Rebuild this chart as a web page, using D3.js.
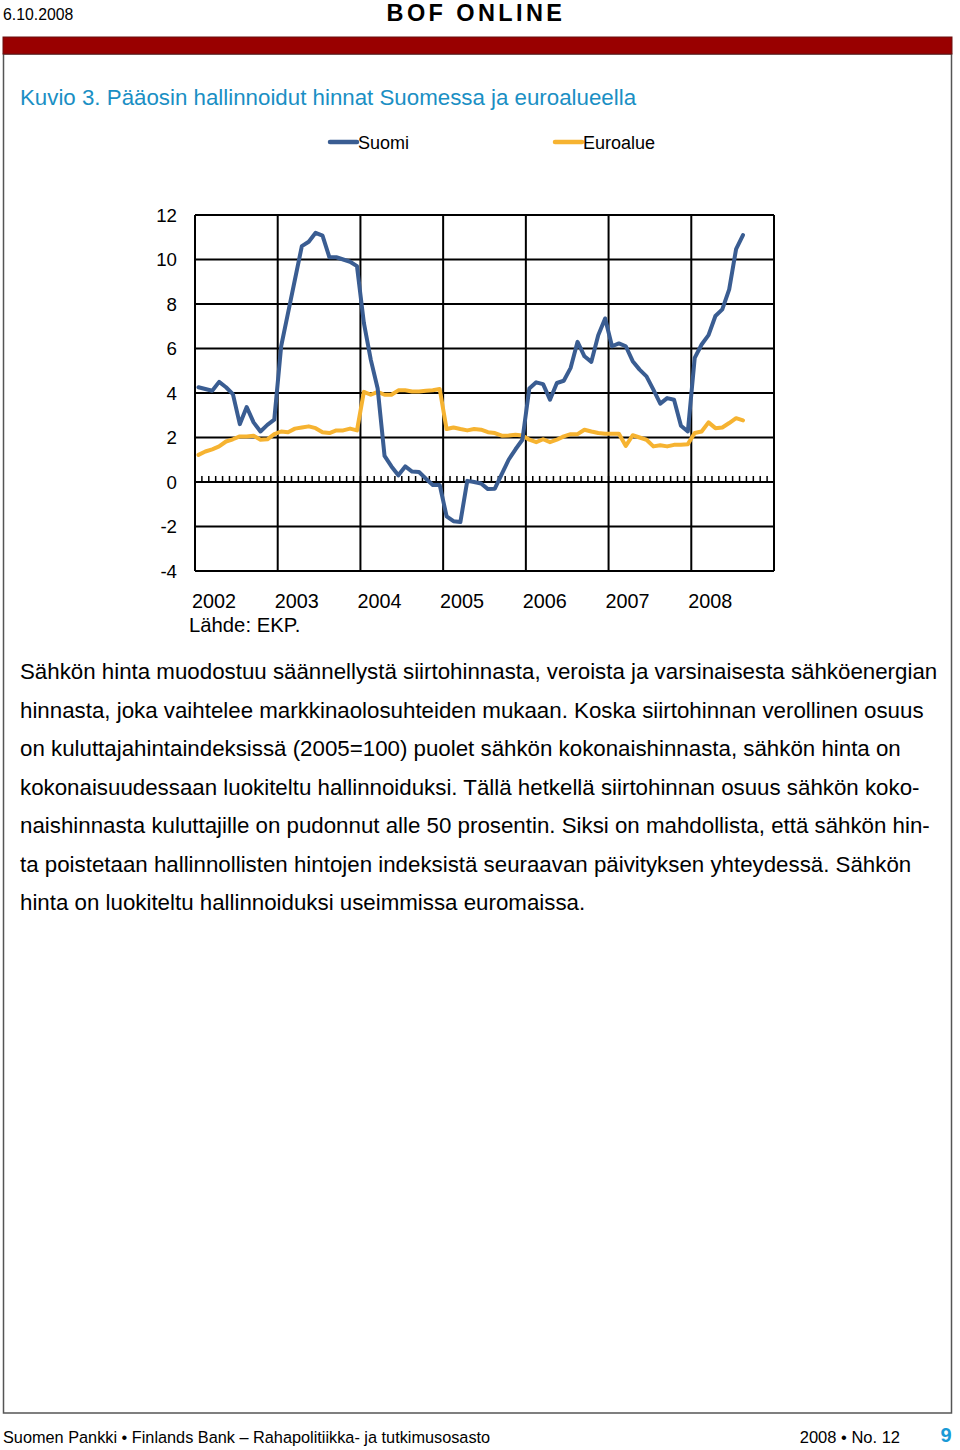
<!DOCTYPE html>
<html>
<head>
<meta charset="utf-8">
<script src="https://cdn.jsdelivr.net/npm/d3@7"></script>
<style>
  html, body { margin: 0; padding: 0; background: #fff; }
  svg { display: block; }
</style>
</head>
<body>
<script>
// ---- Data ----
const years = [2002, 2003, 2004, 2005, 2006, 2007, 2008];
const yTicks = [-4, -2, 0, 2, 4, 6, 8, 10, 12];
// Monthly values, Jan 2002 - Aug 2008
const suomi = [
  4.26, 4.18, 4.10, 4.50, 4.26, 3.95, 2.60, 3.37, 2.68, 2.27, 2.57, 2.80,   // 2002
  6.10, 7.60, 9.10, 10.60, 10.80, 11.20, 11.07, 10.10, 10.10, 10.00, 9.90, 9.70, // 2003
  7.15, 5.50, 4.20, 1.17, 0.70, 0.30, 0.70, 0.47, 0.45, 0.15, -0.13, -0.13, // 2004
  -1.54, -1.76, -1.80, 0.05, 0.00, -0.07, -0.32, -0.30, 0.35, 1.00, 1.47, 1.90, // 2005
  4.20, 4.48, 4.40, 3.70, 4.45, 4.55, 5.13, 6.30, 5.65, 5.40, 6.60, 7.35, // 2006
  6.10, 6.23, 6.10, 5.43, 5.05, 4.75, 4.15, 3.52, 3.77, 3.70, 2.53, 2.27, // 2007
  5.58, 6.18, 6.60, 7.46, 7.76, 8.66, 10.47, 11.10                          // 2008
];
const euroalue = [
  1.22, 1.37, 1.47, 1.60, 1.82, 1.92, 2.05, 2.05, 2.08, 1.90, 1.92, 2.15,   // 2002
  2.27, 2.24, 2.40, 2.45, 2.50, 2.42, 2.24, 2.20, 2.32, 2.32, 2.40, 2.32,   // 2003
  4.05, 3.92, 4.05, 3.92, 3.92, 4.12, 4.12, 4.07, 4.07, 4.10, 4.12, 4.18,   // 2004
  2.38, 2.45, 2.38, 2.32, 2.38, 2.35, 2.24, 2.20, 2.08, 2.09, 2.12, 2.09,   // 2005
  1.90, 1.79, 1.92, 1.79, 1.90, 2.05, 2.15, 2.15, 2.35, 2.27, 2.20, 2.17,   // 2006
  2.17, 2.17, 1.62, 2.10, 2.00, 1.90, 1.60, 1.65, 1.60, 1.67, 1.67, 1.70,   // 2007
  2.20, 2.27, 2.68, 2.42, 2.45, 2.65, 2.87, 2.77                            // 2008
];
const seriesNames = ["Suomi", "Euroalue"];
const seriesColors = ["#3a5d92", "#f6b331"];

const paragraph = [
  "Sähkön hinta muodostuu säännellystä siirtohinnasta, veroista ja varsinaisesta sähköenergian",
  "hinnasta, joka vaihtelee markkinaolosuhteiden mukaan. Koska siirtohinnan verollinen osuus",
  "on kuluttajahintaindeksissä (2005=100) puolet sähkön kokonaishinnasta, sähkön hinta on",
  "kokonaisuudessaan luokiteltu hallinnoiduksi. Tällä hetkellä siirtohinnan osuus sähkön koko-",
  "naishinnasta kuluttajille on pudonnut alle 50 prosentin. Siksi on mahdollista, että sähkön hin-",
  "ta poistetaan hallinnollisten hintojen indeksistä seuraavan päivityksen yhteydessä. Sähkön",
  "hinta on luokiteltu hallinnoiduksi useimmissa euromaissa."
];

// ---- Page ----
const W = 960, H = 1450;
const font = "'Liberation Sans', Arial, Helvetica, sans-serif";
const svg = d3.select("body").append("svg").attr("width", W).attr("height", H)
  .style("font-family", font);

// Header
svg.append("text").attr("x", 3).attr("y", 20).attr("font-size", 15.8).attr("fill", "#000")
  .text("6.10.2008");
svg.append("text").attr("x", 476).attr("y", 21).attr("text-anchor", "middle")
  .attr("font-size", 23.5).attr("font-weight", "bold").attr("letter-spacing", 3.4).attr("fill", "#000")
  .text("BOF ONLINE");
// Content box
svg.append("rect").attr("x", 3.5).attr("y", 54).attr("width", 948).attr("height", 1359)
  .attr("fill", "none").attr("stroke", "#555").attr("stroke-width", 1.5);
// Red bar
svg.append("rect").attr("x", 3).attr("y", 37).attr("width", 949).attr("height", 17)
  .attr("fill", "#990000").attr("stroke", "#6a1010").attr("stroke-width", 1);

// Title
svg.append("text").attr("x", 20).attr("y", 105).attr("font-size", 22.3).attr("fill", "#1a8fc4")
  .text("Kuvio 3. Pääosin hallinnoidut hinnat Suomessa ja euroalueella");

// ---- Chart ----
const nMonths = years.length * 12;
const x = d3.scaleLinear().domain([0, nMonths]).range([195, 774]);
const y = d3.scaleLinear().domain([-4, 12]).range([571, 215]);

const g = svg.append("g");
// Horizontal gridlines
g.selectAll("line.h").data(yTicks).enter().append("line")
  .attr("x1", x(0)).attr("x2", x(nMonths))
  .attr("y1", d => y(d)).attr("y2", d => y(d))
  .attr("stroke", "#000").attr("stroke-width", 2);
// Vertical gridlines at year boundaries
g.selectAll("line.v").data(d3.range(0, years.length + 1)).enter().append("line")
  .attr("x1", d => x(d * 12)).attr("x2", d => x(d * 12))
  .attr("y1", y(12)).attr("y2", y(-4))
  .attr("stroke", "#000").attr("stroke-width", 2);
// Monthly minor ticks on zero line
g.selectAll("line.t").data(d3.range(0, nMonths + 1)).enter().append("line")
  .attr("x1", d => x(d)).attr("x2", d => x(d))
  .attr("y1", y(0)).attr("y2", y(0) - 6)
  .attr("stroke", "#000").attr("stroke-width", 1.5);

// Y-axis labels
svg.selectAll("text.yl").data(yTicks).enter().append("text")
  .attr("x", 177).attr("y", d => y(d) + 6.5).attr("text-anchor", "end")
  .attr("font-size", 18.7).attr("fill", "#000").text(d => d);
// X-axis labels
svg.selectAll("text.xl").data(years).enter().append("text")
  .attr("x", (d, i) => x(i * 12 + 2.75)).attr("y", 608).attr("text-anchor", "middle")
  .attr("font-size", 19.8).attr("fill", "#000").text(d => d);
svg.append("text").attr("x", 189).attr("y", 632).attr("font-size", 20.3).attr("fill", "#000")
  .text("Lähde: EKP.");

// Series lines
const line = d3.line().x((d, i) => x(i + 0.5)).y(d => y(d));
[euroalue, suomi].forEach((s, k) => {
  const color = k === 0 ? seriesColors[1] : seriesColors[0];
  g.append("path").datum(s).attr("d", line)
    .attr("fill", "none").attr("stroke", color).attr("stroke-width", 4)
    .attr("stroke-linejoin", "round").attr("stroke-linecap", "round");
});

// Legend
const legendPos = [{lx: 330, tx: 358}, {lx: 555, tx: 583}];
seriesNames.forEach((name, i) => {
  svg.append("line").attr("x1", legendPos[i].lx).attr("x2", legendPos[i].lx + 27)
    .attr("y1", 142).attr("y2", 142).attr("stroke", seriesColors[i]).attr("stroke-width", 4.5)
    .attr("stroke-linecap", "round");
  svg.append("text").attr("x", legendPos[i].tx).attr("y", 148.5).attr("font-size", 18)
    .attr("fill", "#000").text(name);
});

// Paragraph
svg.selectAll("text.p").data(paragraph).enter().append("text")
  .attr("x", 20).attr("y", (d, i) => 679 + i * 38.5).attr("font-size", 22.3).attr("fill", "#000")
  .text(d => d);

// Footer
svg.append("text").attr("x", 3).attr("y", 1443).attr("font-size", 16.3).attr("fill", "#000")
  .text("Suomen Pankki • Finlands Bank – Rahapolitiikka- ja tutkimusosasto");
svg.append("text").attr("x", 900).attr("y", 1443).attr("text-anchor", "end").attr("font-size", 16.5)
  .attr("fill", "#000").text("2008 • No. 12");
svg.append("text").attr("x", 946).attr("y", 1442).attr("text-anchor", "middle").attr("font-size", 20)
  .attr("font-weight", "bold").attr("fill", "#1a9ad6").text("9");
</script>
</body>
</html>
